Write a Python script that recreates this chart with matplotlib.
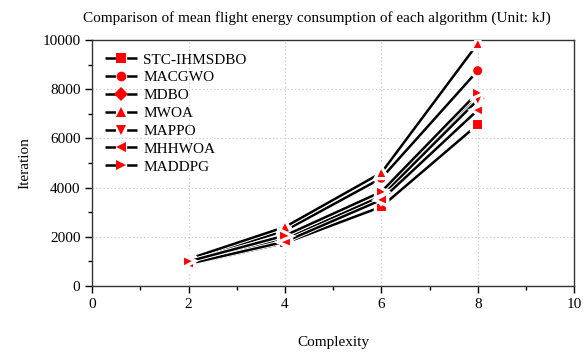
import matplotlib
matplotlib.use("Agg")
import matplotlib.pyplot as plt
import matplotlib.patheffects as pe
from matplotlib.ticker import MultipleLocator

plt.rcParams['font.family'] = ['Liberation Serif', 'DejaVu Serif']
plt.rcParams['lines.scale_dashes'] = False

complexity = [2, 4, 6, 8]
names = ["STC-IHMSDBO", "MACGWO", "MDBO", "MWOA", "MAPPO", "MHHWOA", "MADDPG"]
markers = ["s", "o", "D", "^", "v", "<", ">"]
stc = [880, 1750, 3220, 6560]
macgwo = [1050, 2250, 4380, 8750]
mdbo = [950, 1950, 3700, 7650]
mwoa = [1100, 2400, 4600, 9850]
mappo = [930, 1900, 3650, 7560]
mhhwoa = [900, 1800, 3500, 7150]
maddpg = [1000, 2050, 3830, 7860]
series = [stc, macgwo, mdbo, mwoa, mappo, mhhwoa, maddpg]

fig = plt.figure(figsize=(5.84, 3.52), dpi=100)
ax = fig.add_axes([0.158, 0.1875, 0.825, 0.699])

for name, m, vals in zip(names, markers, series):
    ax.plot(complexity, vals, color='black', lw=1.8, marker=m, markersize=8,
            markerfacecolor='red', markeredgecolor='white', markeredgewidth=1.5,
            label=name, zorder=3,
            path_effects=[pe.Stroke(linewidth=3.2, foreground='white'), pe.Normal()])

ax.set_xlim(0, 10)
ax.set_ylim(0, 10000)
ax.xaxis.set_major_locator(MultipleLocator(2))
ax.xaxis.set_minor_locator(MultipleLocator(1))
ax.yaxis.set_major_locator(MultipleLocator(2000))
ax.yaxis.set_minor_locator(MultipleLocator(1000))
ax.tick_params(which='major', direction='out', length=5, width=1, labelsize=11)
ax.tick_params(which='minor', direction='out', length=3, width=1)
ax.grid(True, which='major', linestyle=':', color='#cccccc', lw=0.8)
for s in ax.spines.values():
    s.set_linewidth(1.0)
    s.set_color('#333333')

ax.set_xlabel("Complexity", fontsize=11, labelpad=18)
ax.set_ylabel("Iteration", fontsize=11, labelpad=8)
fig.text(0.543, 0.948,
         "Comparison of mean flight energy consumption of each algorithm (Unit: kJ)",
         fontsize=11, ha='center', va='center')

leg = ax.legend(loc='upper left', frameon=False, fontsize=11, handlelength=2.1,
                labelspacing=0.27, borderaxespad=0.45, handletextpad=0.4)
for h in leg.legend_handles:
    h.set_path_effects([])
    h.set_markeredgewidth(0)
    h.set_markersize(7)
    h.set_dashes([7.5, 8.1])

fig.savefig("out.png", dpi=100)
